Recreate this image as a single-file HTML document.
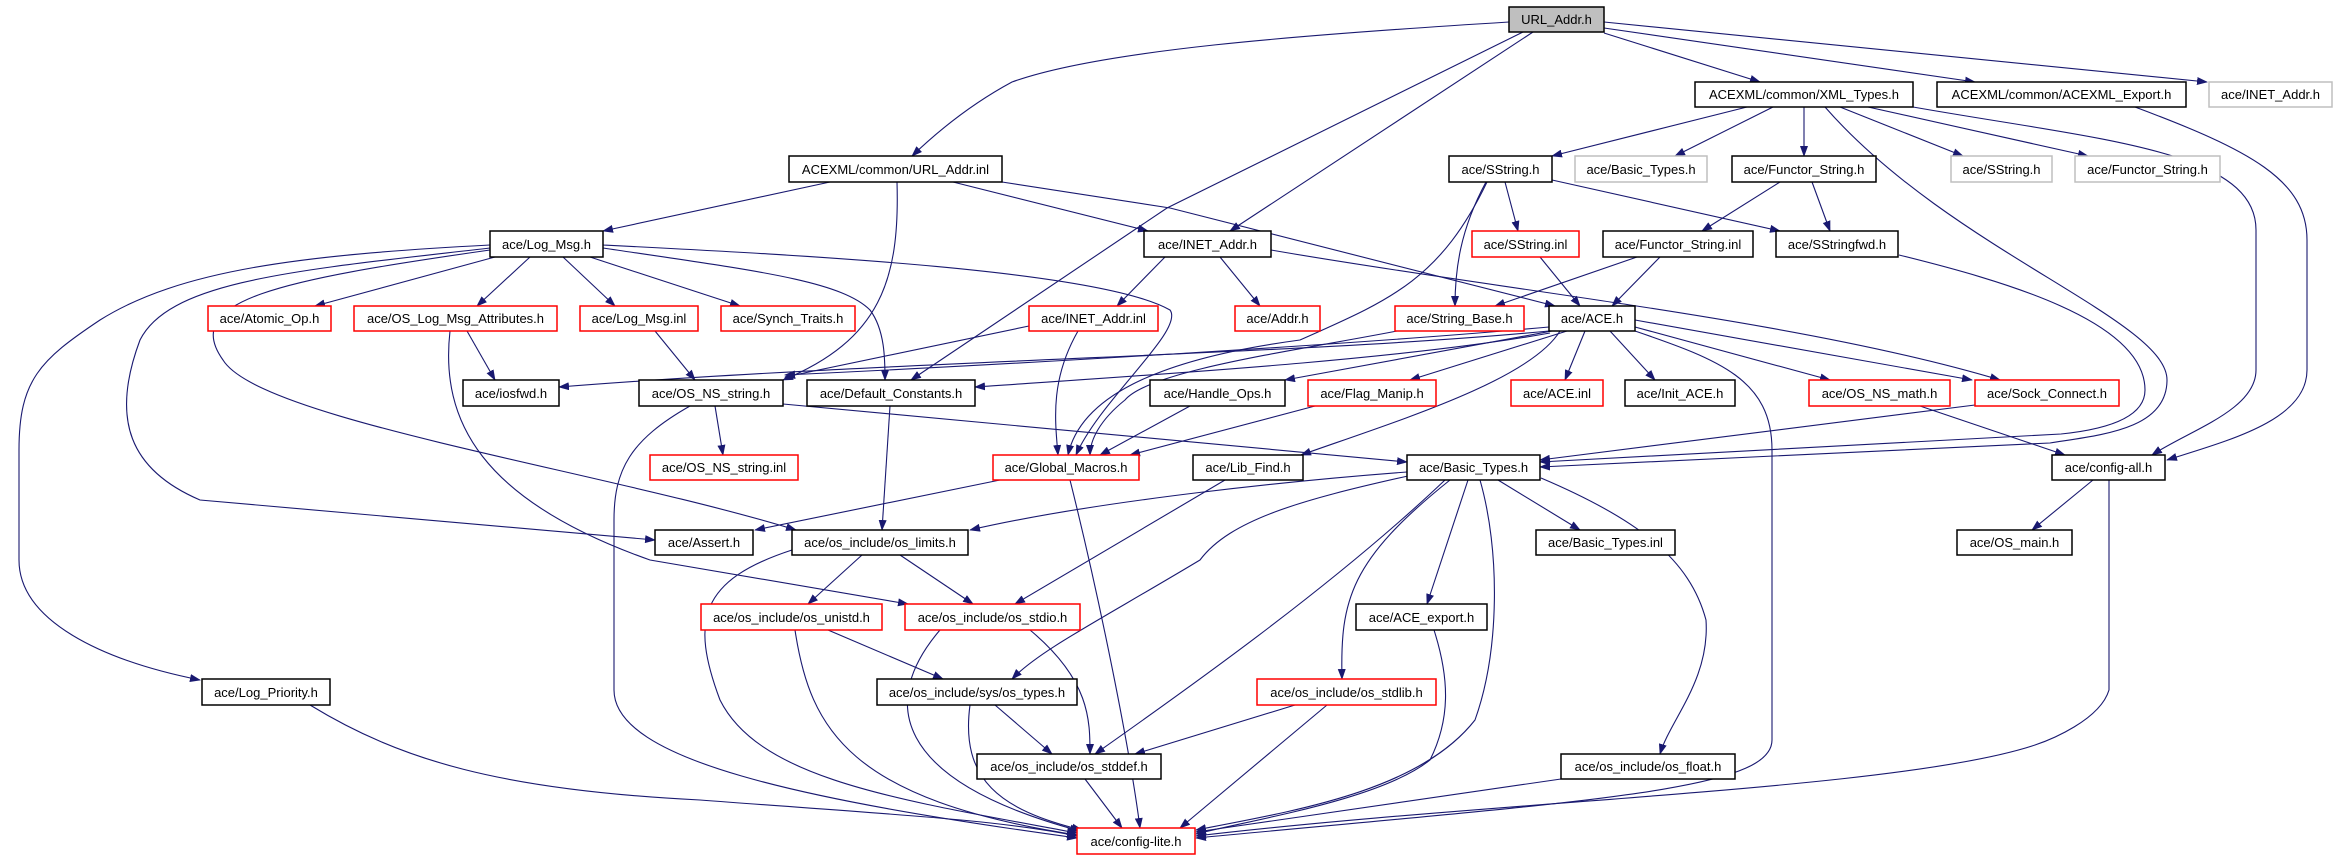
<!DOCTYPE html>
<html><head><meta charset="utf-8"><style>
html,body{margin:0;padding:0;background:#fff;}
svg{display:block;}
text{font-family:"Liberation Sans",sans-serif;font-size:13px;fill:#000;}
.e{fill:none;stroke:#191970;stroke-width:1.1;}
</style></head><body>
<svg width="2337" height="859" viewBox="0 0 2337 859" xmlns="http://www.w3.org/2000/svg">
<defs>
<marker id="a" markerWidth="11" markerHeight="8" refX="10" refY="4" orient="auto" markerUnits="userSpaceOnUse">
<path d="M0,0 L11,4 L0,8 z" fill="#191970"/>
</marker>
</defs>
<g class="e" marker-end="url(#a)">
<!-- URL_Addr.h -->
<path d="M1509,22 C1300,35 1100,50 1012,82 Q960,110 912,156"/>
<path d="M1604,33 L1760,82"/>
<path d="M1604,28 L1975,82"/>
<path d="M1604,22 L2207,82"/>
<path d="M1533,32 L1230,231"/>
<path d="M1523,32 L1167,208 L911,380"/>
<!-- URL_Addr.inl -->
<path d="M830,182 L603,231"/>
<path d="M897,182 C900,280 880,340 783,380"/>
<path d="M953,182 L1148,231"/>
<path d="M1002,182 L1170,208 L1555,306"/>
<!-- XML_Types -->
<path d="M1747,107 L1552,156"/>
<path d="M1773,107 L1675,156"/>
<path d="M1804,107 L1804,156"/>
<path d="M1840,107 L1963,156"/>
<path d="M1868,107 L2088,156"/>
<path d="M1825,107 C1950,250 2167,320 2167,380 C2167,430 2100,435 2050,443 L1540,467"/>
<path d="M1913,107 C2100,140 2256,150 2256,230 L2256,370 C2256,410 2190,430 2152,455"/>
<!-- ACEXML_Export -->
<path d="M2135,107 C2250,150 2307,180 2307,240 L2307,370 C2307,420 2230,440 2167,460"/>
<!-- SString.h -->
<path d="M1505,182 L1518,231"/>
<path d="M1552,180 L1780,231"/>
<path d="M1486,182 C1460,230 1455,270 1455,306"/>
<path d="M1487,182 C1440,280 1390,300 1300,340 C1150,360 1080,400 1068,455"/>
<!-- Functor_String -->
<path d="M1780,182 L1702,231"/>
<path d="M1812,182 L1830,231"/>
<path d="M1637,257 L1495,306"/>
<path d="M1660,257 L1612,306"/>
<path d="M1540,257 L1580,306"/>
<path d="M1899,255 C2000,280 2145,320 2145,390 C2145,420 2100,430 2061,434 L1540,462"/>
<!-- Log_Msg.h -->
<path d="M495,257 L315,306"/>
<path d="M530,257 L477,306"/>
<path d="M563,257 L615,306"/>
<path d="M590,257 L740,306"/>
<path d="M603,248 C750,270 840,280 870,310 C885,330 885,360 885,380"/>
<path d="M603,245 C800,255 1100,270 1170,310 C1185,330 1100,400 1076,455"/>
<path d="M490,248 C300,270 170,280 140,340 C110,420 130,470 200,500 L655,540"/>
<path d="M490,245 C300,255 180,270 100,320 C40,360 19,380 19,450 L19,560 C19,620 100,660 200,680"/>
<path d="M490,250 C280,280 180,300 223,360 C260,420 600,470 796,530"/>
<path d="M450,331 C440,420 480,500 650,560 L908,604"/>
<path d="M467,331 L495,380"/>
<path d="M655,331 L695,380"/>
<!-- INET_Addr.h -->
<path d="M1165,257 L1117,306"/>
<path d="M1220,257 L1260,306"/>
<path d="M1271,250 C1500,290 1800,320 2000,380"/>
<path d="M1029,326 L785,377"/>
<path d="M1078,331 C1050,380 1055,420 1058,455"/>
<!-- ACE.h -->
<path d="M1549,331 C1300,355 900,360 559,387"/>
<path d="M1549,327 C1350,345 1000,365 785,375"/>
<path d="M1550,333 C1400,360 1150,375 975,387"/>
<path d="M1552,331 L1285,380"/>
<path d="M1567,331 L1410,380"/>
<path d="M1585,331 L1565,380"/>
<path d="M1610,331 L1655,380"/>
<path d="M1635,327 L1830,380"/>
<path d="M1635,320 L1972,380"/>
<path d="M1560,331 C1530,380 1400,420 1301,455"/>
<path d="M1635,331 C1720,360 1772,380 1772,450 L1772,740 C1772,790 1600,800 1196,838"/>
<path d="M1397,331 C1300,350 1150,370 1125,400 C1100,420 1090,440 1090,455"/>
<path d="M1190,406 L1100,455"/>
<path d="M1315,406 L1130,455"/>
<path d="M1975,405 L1540,460"/>
<path d="M1920,406 L2065,455"/>
<!-- OS_NS_string -->
<path d="M715,406 L723,455"/>
<path d="M783,404 L1407,462"/>
<path d="M690,406 C630,440 614,470 614,520 L614,690 C614,760 800,800 1077,838"/>
<path d="M890,406 L882,530"/>
<path d="M1000,480 L755,530"/>
<path d="M1070,480 C1100,600 1130,750 1140,828"/>
<path d="M1225,480 L1015,604"/>
<!-- Basic_Types.h -->
<path d="M1407,472 C1300,480 1100,500 970,530"/>
<path d="M1408,476 C1300,500 1230,520 1200,560 C1100,620 1040,650 1012,679"/>
<path d="M1445,480 C1340,580 1200,680 1095,754"/>
<path d="M1450,480 C1350,560 1340,600 1342,679"/>
<path d="M1468,480 L1427,604"/>
<path d="M1480,480 C1500,550 1500,650 1475,720 C1420,790 1300,810 1196,830"/>
<path d="M1498,480 L1580,530"/>
<path d="M1541,478 C1640,520 1690,560 1706,620 C1710,680 1670,720 1660,754"/>
<path d="M2093,480 L2032,530"/>
<path d="M2109,480 L2109,690 C2100,720 2050,740 2035,745 C1900,790 1500,800 1196,836"/>
<!-- os level -->
<path d="M862,555 L808,604"/>
<path d="M900,555 L973,604"/>
<path d="M792,550 C700,580 690,620 720,700 C760,780 900,800 1077,833"/>
<path d="M828,630 L943,679"/>
<path d="M795,630 C810,730 850,800 1077,835"/>
<path d="M1030,630 C1090,680 1090,720 1090,754"/>
<path d="M940,630 C880,700 890,780 1080,831"/>
<path d="M995,705 L1052,754"/>
<path d="M970,705 C960,780 1000,810 1082,830"/>
<path d="M1295,705 L1135,754"/>
<path d="M1327,705 L1180,828"/>
<path d="M1085,779 L1122,828"/>
<path d="M1561,779 L1196,832"/>
<path d="M1434,630 C1450,680 1450,720 1430,760 C1380,800 1250,820 1196,834"/>
<path d="M310,705 C400,760 500,790 700,800 C900,815 1000,820 1077,836"/>
</g>
<g stroke-width="1.5">
<rect x="1509" y="7" width="95" height="25" fill="#bfbfbf" stroke="#000"/><text x="1556.5" y="24" text-anchor="middle">URL_Addr.h</text>
<rect x="1695" y="82" width="218" height="25" fill="#fff" stroke="#000"/><text x="1804" y="99" text-anchor="middle">ACEXML/common/XML_Types.h</text>
<rect x="1937" y="82" width="249" height="25" fill="#fff" stroke="#000"/><text x="2061.5" y="99" text-anchor="middle">ACEXML/common/ACEXML_Export.h</text>
<rect x="2209" y="82" width="123" height="25" fill="#fff" stroke="#bfbfbf"/><text x="2270.5" y="99" text-anchor="middle">ace/INET_Addr.h</text>
<rect x="789" y="156" width="213" height="26" fill="#fff" stroke="#000"/><text x="895.5" y="174" text-anchor="middle">ACEXML/common/URL_Addr.inl</text>
<rect x="1449" y="156" width="103" height="26" fill="#fff" stroke="#000"/><text x="1500.5" y="174" text-anchor="middle">ace/SString.h</text>
<rect x="1575" y="156" width="132" height="26" fill="#fff" stroke="#bfbfbf"/><text x="1641" y="174" text-anchor="middle">ace/Basic_Types.h</text>
<rect x="1732" y="156" width="144" height="26" fill="#fff" stroke="#000"/><text x="1804" y="174" text-anchor="middle">ace/Functor_String.h</text>
<rect x="1951" y="156" width="101" height="26" fill="#fff" stroke="#bfbfbf"/><text x="2001.5" y="174" text-anchor="middle">ace/SString.h</text>
<rect x="2075" y="156" width="145" height="26" fill="#fff" stroke="#bfbfbf"/><text x="2147.5" y="174" text-anchor="middle">ace/Functor_String.h</text>
<rect x="490" y="231" width="113" height="26" fill="#fff" stroke="#000"/><text x="546.5" y="249" text-anchor="middle">ace/Log_Msg.h</text>
<rect x="1144" y="231" width="127" height="26" fill="#fff" stroke="#000"/><text x="1207.5" y="249" text-anchor="middle">ace/INET_Addr.h</text>
<rect x="1472" y="231" width="107" height="26" fill="#fff" stroke="#f00"/><text x="1525.5" y="249" text-anchor="middle">ace/SString.inl</text>
<rect x="1603" y="231" width="150" height="26" fill="#fff" stroke="#000"/><text x="1678" y="249" text-anchor="middle">ace/Functor_String.inl</text>
<rect x="1776" y="231" width="122" height="26" fill="#fff" stroke="#000"/><text x="1837" y="249" text-anchor="middle">ace/SStringfwd.h</text>
<rect x="208" y="306" width="123" height="25" fill="#fff" stroke="#f00"/><text x="269.5" y="323" text-anchor="middle">ace/Atomic_Op.h</text>
<rect x="354" y="306" width="203" height="25" fill="#fff" stroke="#f00"/><text x="455.5" y="323" text-anchor="middle">ace/OS_Log_Msg_Attributes.h</text>
<rect x="580" y="306" width="118" height="25" fill="#fff" stroke="#f00"/><text x="639" y="323" text-anchor="middle">ace/Log_Msg.inl</text>
<rect x="721" y="306" width="134" height="25" fill="#fff" stroke="#f00"/><text x="788" y="323" text-anchor="middle">ace/Synch_Traits.h</text>
<rect x="1029" y="306" width="129" height="25" fill="#fff" stroke="#f00"/><text x="1093.5" y="323" text-anchor="middle">ace/INET_Addr.inl</text>
<rect x="1235" y="306" width="85" height="25" fill="#fff" stroke="#f00"/><text x="1277.5" y="323" text-anchor="middle">ace/Addr.h</text>
<rect x="1395" y="306" width="129" height="25" fill="#fff" stroke="#f00"/><text x="1459.5" y="323" text-anchor="middle">ace/String_Base.h</text>
<rect x="1549" y="306" width="86" height="25" fill="#fff" stroke="#000"/><text x="1592" y="323" text-anchor="middle">ace/ACE.h</text>
<rect x="463" y="380" width="96" height="26" fill="#fff" stroke="#000"/><text x="511" y="398" text-anchor="middle">ace/iosfwd.h</text>
<rect x="639" y="380" width="144" height="26" fill="#fff" stroke="#000"/><text x="711" y="398" text-anchor="middle">ace/OS_NS_string.h</text>
<rect x="807" y="380" width="168" height="26" fill="#fff" stroke="#000"/><text x="891" y="398" text-anchor="middle">ace/Default_Constants.h</text>
<rect x="1150" y="380" width="135" height="26" fill="#fff" stroke="#000"/><text x="1217.5" y="398" text-anchor="middle">ace/Handle_Ops.h</text>
<rect x="1308" y="380" width="128" height="26" fill="#fff" stroke="#f00"/><text x="1372" y="398" text-anchor="middle">ace/Flag_Manip.h</text>
<rect x="1511" y="380" width="92" height="26" fill="#fff" stroke="#f00"/><text x="1557" y="398" text-anchor="middle">ace/ACE.inl</text>
<rect x="1625" y="380" width="110" height="26" fill="#fff" stroke="#000"/><text x="1680" y="398" text-anchor="middle">ace/Init_ACE.h</text>
<rect x="1809" y="380" width="141" height="26" fill="#fff" stroke="#f00"/><text x="1879.5" y="398" text-anchor="middle">ace/OS_NS_math.h</text>
<rect x="1975" y="380" width="144" height="26" fill="#fff" stroke="#f00"/><text x="2047" y="398" text-anchor="middle">ace/Sock_Connect.h</text>
<rect x="650" y="455" width="148" height="25" fill="#fff" stroke="#f00"/><text x="724" y="472" text-anchor="middle">ace/OS_NS_string.inl</text>
<rect x="993" y="455" width="146" height="25" fill="#fff" stroke="#f00"/><text x="1066" y="472" text-anchor="middle">ace/Global_Macros.h</text>
<rect x="1193" y="455" width="110" height="25" fill="#fff" stroke="#000"/><text x="1248" y="472" text-anchor="middle">ace/Lib_Find.h</text>
<rect x="1407" y="455" width="133" height="25" fill="#fff" stroke="#000"/><text x="1473.5" y="472" text-anchor="middle">ace/Basic_Types.h</text>
<rect x="2052" y="455" width="113" height="25" fill="#fff" stroke="#000"/><text x="2108.5" y="472" text-anchor="middle">ace/config-all.h</text>
<rect x="655" y="530" width="98" height="25" fill="#fff" stroke="#000"/><text x="704" y="547" text-anchor="middle">ace/Assert.h</text>
<rect x="792" y="530" width="176" height="25" fill="#fff" stroke="#000"/><text x="880" y="547" text-anchor="middle">ace/os_include/os_limits.h</text>
<rect x="1536" y="530" width="139" height="25" fill="#fff" stroke="#000"/><text x="1605.5" y="547" text-anchor="middle">ace/Basic_Types.inl</text>
<rect x="1957" y="530" width="115" height="25" fill="#fff" stroke="#000"/><text x="2014.5" y="547" text-anchor="middle">ace/OS_main.h</text>
<rect x="701" y="604" width="181" height="26" fill="#fff" stroke="#f00"/><text x="791.5" y="622" text-anchor="middle">ace/os_include/os_unistd.h</text>
<rect x="905" y="604" width="175" height="26" fill="#fff" stroke="#f00"/><text x="992.5" y="622" text-anchor="middle">ace/os_include/os_stdio.h</text>
<rect x="1356" y="604" width="131" height="26" fill="#fff" stroke="#000"/><text x="1421.5" y="622" text-anchor="middle">ace/ACE_export.h</text>
<rect x="202" y="679" width="128" height="26" fill="#fff" stroke="#000"/><text x="266" y="697" text-anchor="middle">ace/Log_Priority.h</text>
<rect x="877" y="679" width="200" height="26" fill="#fff" stroke="#000"/><text x="977" y="697" text-anchor="middle">ace/os_include/sys/os_types.h</text>
<rect x="1257" y="679" width="179" height="26" fill="#fff" stroke="#f00"/><text x="1346.5" y="697" text-anchor="middle">ace/os_include/os_stdlib.h</text>
<rect x="977" y="754" width="184" height="25" fill="#fff" stroke="#000"/><text x="1069" y="771" text-anchor="middle">ace/os_include/os_stddef.h</text>
<rect x="1561" y="754" width="174" height="25" fill="#fff" stroke="#000"/><text x="1648" y="771" text-anchor="middle">ace/os_include/os_float.h</text>
<rect x="1077" y="828" width="118" height="26" fill="#fff" stroke="#f00"/><text x="1136" y="846" text-anchor="middle">ace/config-lite.h</text>
</g>
</svg>
</body></html>
